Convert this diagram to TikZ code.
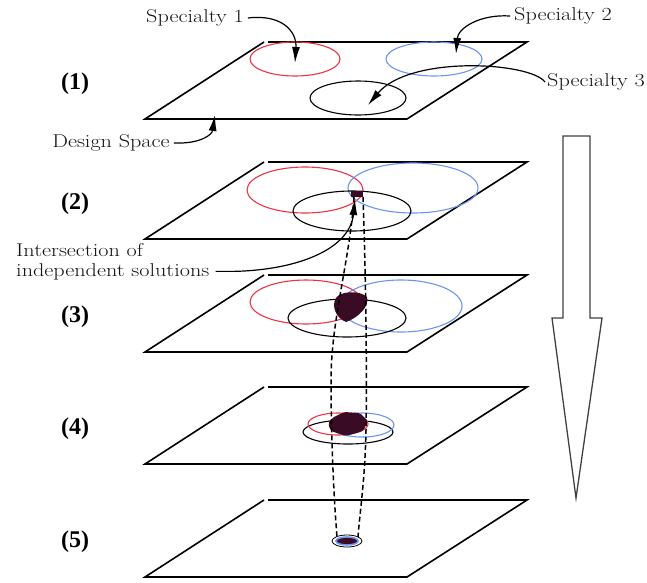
\documentclass[tikz,border=0pt]{standalone}
\usepackage{fontspec}
\newfontfamily\numfont{Liberation Serif}
\usepackage{graphicx}
\usetikzlibrary{arrows.meta,positioning,calc}
\definecolor{SpecRed}{HTML}{EE3344}
\definecolor{SpecBlue}{HTML}{6B95F0}
\definecolor{Blob}{HTML}{3A0B24}
\definecolor{Ink}{HTML}{141414}
\newcommand{\wide}[1]{\scalebox{1.2}[1]{#1}}
\tikzset{
  arr/.style={-{Latex[length=16pt,width=8pt]},line width=1.2pt,draw=black},
  plane/.style={line width=1.6pt,draw=black},
  redring/.style={line width=1.1pt,draw=SpecRed},
  bluering/.style={line width=1.1pt,draw=SpecBlue},
  blackring/.style={line width=1.1pt,draw=black},
  lbl/.style={font=\fontsize{18.5}{22}\selectfont,inner sep=0pt,text=Ink},
  numlbl/.style={font=\numfont\bfseries\fontsize{24}{28}\selectfont,inner sep=0pt},
  trace/.style={line width=1.5pt,dash pattern=on 5pt off 3pt}
}

\begin{document}
\begin{tikzpicture}[x=1pt,y=-1pt]
  \useasboundingbox (0,0) rectangle (647,582);
  % the five design planes
  \foreach \k/\t in {1/42,2/162,3/275,4/387,5/500}{
    \draw[plane] (264,\t) -- (145,\t+77) -- (407,\t+77) -- (527,\t) -- (268,\t);
    \node[numlbl] (n\k) at (75,\t+42) {(\k)};
  }
  % plane 1
  \draw[redring] (295,59) ellipse [x radius=45,y radius=17];
  \draw[bluering] (434,59) ellipse [x radius=48,y radius=17];
  \draw[blackring] (358,98) ellipse [x radius=48,y radius=17];
  % plane 2
  \draw[redring] (305,190) ellipse [x radius=58,y radius=23];
  \draw[bluering] (413,188) ellipse [x radius=65,y radius=25];
  \draw[blackring] (352,211) ellipse [x radius=59,y radius=20];
  \fill[Blob] (351,191) rectangle (363,197);
  % plane 3
  \draw[redring] (306,302) ellipse [x radius=56,y radius=22];
  \draw[bluering] (401,306) ellipse [x radius=61,y radius=26];
  \draw[blackring] (347,318) ellipse [x radius=59,y radius=19];
  \fill[Blob] (336,298) .. controls (340,291) and (360,290) .. (367,297)
    .. controls (370,306) and (358,318) .. (346,322)
    .. controls (336,318) and (331,306) .. (336,298) -- cycle;
  % plane 4
  \draw[blackring] (348,432) ellipse [x radius=45,y radius=12];
  \draw[redring] (338,424) ellipse [x radius=30,y radius=11];
  \draw[bluering] (362,425) ellipse [x radius=32,y radius=12];
  \fill[Blob,rounded corners=2pt] (332,418) -- (344,412) -- (360,413) -- (368,421)
    -- (363,431) -- (346,436) -- (331,431) -- (328,424) -- cycle;
  % plane 5
  \draw[blackring,line width=0.8pt] (347,541) ellipse [x radius=15,y radius=6];
  \draw[SpecBlue,line width=1.6pt,fill=Blob] (347,541) ellipse [x radius=11,y radius=4];
  % narrowing traces
  \draw[trace] (354,197) .. controls (350,260) and (331,320) .. (331,380)
    .. controls (331,440) and (334,500) .. (337,537);
  \draw[trace] (363,197) .. controls (366,280) and (367,380) .. (366,430)
    .. controls (365,480) and (360,510) .. (358,537);
  % process arrow
  \draw[line width=1.3pt,draw=black!75] (563,136) -- (590,136) -- (590,318) -- (602,318)
    -- (576,498) -- (552,318) -- (563,318) -- cycle;
  % labels
  \node[lbl] (spec1) at (195,18) {\wide{Specialty 1}};
  \node[lbl] (spec2) at (563,16) {\wide{Specialty 2}};
  \node[lbl] (spec3) at (596,82) {\wide{Specialty 3}};
  \node[lbl] (space) at (111,143) {\wide{Design Space}};
  \node[lbl,anchor=base west] (isect1) at (16,256) {\wide{Intersection of}};
  \node[lbl,anchor=base west] (isect2) at (16,276) {\wide{independent solutions}};
  \coordinate (tip1) at (295,63);
  \coordinate (tip2) at (456,54);
  \coordinate (tip3) at (368,105);
  \coordinate (tipds) at (215,115);
  \coordinate (tipis) at (355,199);
  \draw[arr] ([xshift=4pt]spec1.east) .. controls (280,14) and (297,30) .. (tip1);
  \draw[arr] ([xshift=-4pt]spec2.west) .. controls (480,14) and (458,28) .. (tip2);
  \draw[arr] ([xshift=-2pt]spec3.west) .. controls (530,62) and (410,55) .. (tip3);
  \draw[arr] ([xshift=4pt]space.east) .. controls (200,144) and (212,135) .. (tipds);
  \draw[arr] ([xshift=6pt]isect2.east) -- ++(18,0) .. controls (300,270) and (350,248) .. (tipis);
\end{tikzpicture}
\end{document}
